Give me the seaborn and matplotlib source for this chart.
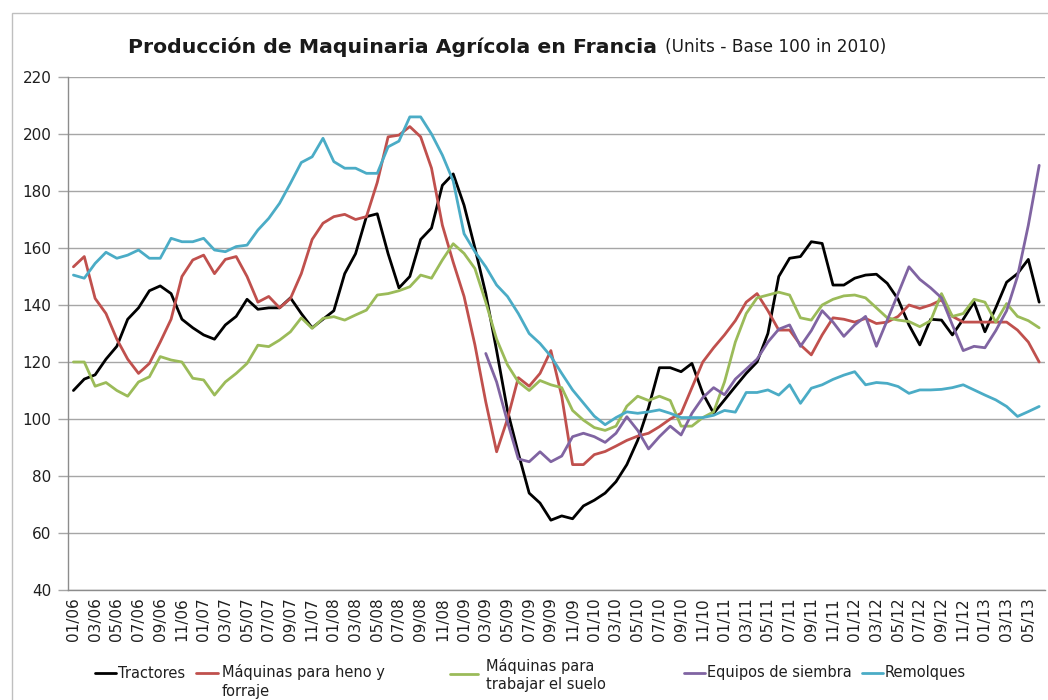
import numpy as np
import pandas as pd
import matplotlib
matplotlib.use("Agg")
import matplotlib.pyplot as plt
from matplotlib.lines import Line2D
from matplotlib.patches import Rectangle
import seaborn as sns

# ---------------- data ----------------
years = ["06", "07", "08", "09", "10", "11", "12", "13"]
month_labels = [f"{m:02d}/{y}" for y in years for m in range(1, 13)][:90]

series_names = ["Tractores", "Máquinas para heno y\nforraje",
                "Máquinas para\ntrabajar el suelo", "Equipos de siembra", "Remolques"]
series_colors = ["#000000", "#c0504d", "#9bbb59", "#8064a2", "#4bacc6"]

tractores = [110, 114, 115.5, 121, 125.5, 135, 139, 145, 146.7, 144,
             135, 132, 129.5, 128, 133, 136, 142, 138.5, 139, 139,
             142.5, 137, 132, 135, 138, 151, 158, 171, 172, 158,
             146, 150, 163, 167, 182, 186, 175, 160, 144, 124,
             103, 88, 74, 70.5, 64.5, 66, 65, 69.5, 71.5, 74,
             78, 84, 92.5, 104, 118, 118, 116.6, 119.5, 109, 102,
             106.7, 111.4, 116, 120, 130, 150, 156.4, 157, 162.2, 161.6,
             147, 147, 149.4, 150.5, 150.8, 147.6, 142, 133, 126, 135,
             134.7, 129.5, 135, 141, 130.6, 139, 148, 151, 156, 141]

heno = [153.4, 157, 142.3, 137, 128, 121, 116, 119.5, 127, 135,
        150, 155.8, 157.5, 151, 156, 157, 150, 141, 143, 139,
        142.3, 151, 163, 168.7, 171, 171.8, 170, 171, 183, 199,
        199.6, 202.6, 199, 188, 168, 155, 143, 126, 106, 88.5,
        100, 114.5, 111.5, 116, 124, 108, 84, 84, 87.5, 88.6,
        90.5, 92.5, 94, 95, 97.3, 100, 102, 111, 120, 125,
        129.5, 134.5, 141, 144, 138, 131.2, 131.2, 126, 122.5, 129.5,
        135.5, 135, 134, 135.3, 133.5, 134, 136, 140, 138.8, 140,
        141.8, 136, 134, 134, 134, 134, 134, 131.2, 127, 120]

suelo = [120, 120, 111.5, 112.8, 110, 108, 113, 114.8, 121.9, 120.7,
         120, 114.3, 113.7, 108.4, 113, 116, 119.5, 125.9, 125.4, 127.7,
         130.6, 135.5, 131.8, 135.3, 135.9, 134.7, 136.5, 138.2, 143.5, 144,
         145, 146.4, 150.5, 149.4, 155.8, 161.5, 158.1, 152.8, 141, 128,
         119, 113, 110, 113.5, 112, 111, 103, 99.6, 97, 96,
         97.5, 104.5, 108, 106.5, 108, 106.5, 97.5, 97.5, 100.5, 102.5,
         113, 127, 137, 142.5, 143.5, 144.5, 143.5, 135.5, 134.7, 140,
         142, 143.2, 143.5, 142.5, 139, 135.5, 134.7, 134.2, 132.4, 134.5,
         144, 136, 137, 142, 141, 134, 140.5, 136, 134.5, 132]

siembra_start = 38
siembra = [123, 113, 99, 86, 85, 88.5, 85, 87, 93.8, 95,
           93.8, 91.8, 95, 100.8, 96, 89.5, 93.8, 97.5, 94.4, 102,
           107.5, 111, 108.5, 114, 117.5, 121, 127, 131.5, 133, 125.5,
           131, 138, 134, 129, 133, 136, 125.5, 134.7, 144, 153.4,
           149, 146, 142.5, 133, 124, 125.5, 125, 131, 138, 150,
           168, 189]

remolques = [150.5, 149.4, 154.6, 158.5, 156.4, 157.5, 159.3, 156.4, 156.4, 163.4,
             162.2, 162.2, 163.4, 159.3, 158.7, 160.5, 161, 166.3, 170.4, 175.7,
             182.7, 190, 192, 198.5, 190.3, 188, 188, 186.2, 186.2, 195.5,
             197.5, 206, 206, 200, 192.6, 183.5, 165, 158.7, 153.4, 147,
             143, 137, 130, 126.5, 122, 116, 110.2, 105.6, 101, 98,
             100.5, 102.5, 102, 102.5, 103.2, 102, 100.5, 100.5, 100.5, 101.3,
             103, 102.4, 109.3, 109.3, 110.2, 108.4, 112, 105.5, 110.8, 112,
             113.9, 115.4, 116.6, 112, 112.8, 112.5, 111.4, 109, 110.2, 110.2,
             110.4, 111, 112, 110.2, 108.4, 106.7, 104.4, 100.9, 102.6, 104.4]

y_ticks = [40, 60, 80, 100, 120, 140, 160, 180, 200, 220]

# ---------------- long table ----------------
frames = []
for name, vals, start in [(series_names[0], tractores, 0),
                          (series_names[1], heno, 0),
                          (series_names[2], suelo, 0),
                          (series_names[3], siembra, siembra_start),
                          (series_names[4], remolques, 0)]:
    frames.append(pd.DataFrame({"idx": np.arange(start, start + len(vals)),
                                "valor": vals, "serie": name}))
df = pd.concat(frames, ignore_index=True)

# ---------------- figure ----------------
sns.set_theme(style="white")
plt.rcParams["font.family"] = ["DejaVu Sans"]

W, H = 1048, 700
fig = plt.figure(figsize=(W / 100, H / 100), dpi=100)
ax = fig.add_axes([68 / W, 1 - 590 / H, (1044.6 - 68) / W, (590 - 77) / H])

sns.lineplot(data=df, x="idx", y="valor", hue="serie", hue_order=series_names,
             palette=series_colors, estimator=None, linewidth=2.0, ax=ax, legend=False)

ax.set_xlim(-0.5, 89.5)
ax.set_ylim(40, 220)
ax.set_xlabel("")
ax.set_ylabel("")

ax.set_yticks(y_ticks)
ax.set_yticklabels([str(v) for v in y_ticks], fontsize=11, color="#1f1f1f")
ax.yaxis.grid(True, color="#a6a6a6", linewidth=1.0)
ax.xaxis.grid(False)
ax.set_axisbelow(True)

ax.set_xticks(np.arange(0, 90, 2))
ax.set_xticklabels(month_labels[::2], rotation=90, fontsize=11, color="#1f1f1f")
ax.set_xticks(np.arange(-0.5, 90, 2), minor=True)
ax.tick_params(axis="x", which="major", length=0, pad=5)
ax.tick_params(axis="x", which="minor", length=5, width=1, color="#8c8c8c", direction="out")
ax.tick_params(axis="y", which="major", length=7, width=1, color="#a6a6a6", direction="out", pad=5, left=True)

for s in ["top", "right"]:
    ax.spines[s].set_visible(False)
for s in ["left", "bottom"]:
    ax.spines[s].set_color("#8c8c8c")
    ax.spines[s].set_linewidth(1.0)

# outer chart border
fig.patches.append(Rectangle((12 / W, -0.1), 1.2, 1 - 13 / H + 0.1, transform=fig.transFigure,
                             fill=False, edgecolor="#bfbfbf", linewidth=1.0))

# ---------------- title ----------------
t1 = fig.text(128 / W, 1 - 47 / H, "Producción de Maquinaria Agrícola en Francia",
              fontsize=13, fontweight="bold", color="#1a1a1a", ha="left", va="center")
fig.canvas.draw()
r = fig.canvas.get_renderer()
bb = t1.get_window_extent(r)
t1.set_fontsize(13 * 522 / bb.width)
fig.canvas.draw()
bb = t1.get_window_extent(r)
t2 = fig.text((bb.x1 + 8) / W, 1 - 47 / H, "(Units - Base 100 in 2010)",
              fontsize=9, color="#1a1a1a", ha="left", va="center")
fig.canvas.draw()
bb2 = t2.get_window_extent(r)
t2.set_fontsize(9 * 222 / bb2.width)

# ---------------- legend ----------------
leg_fs = 10.5
legend_items = [
    (95, 116, 673, 118, 673, "center"),
    (196, 218, 673, 222, 664, "top"),
    (450, 478, 674, 486, 675, "center"),
    (684, 705, 673, 707, 673, "center"),
    (862, 883, 673, 885, 673, "center"),
]
for (hx0, hx1, hy, tx, ty, va), name, col in zip(legend_items, series_names, series_colors):
    fig.add_artist(Line2D([hx0 / W, hx1 / W], [1 - hy / H, 1 - hy / H], color=col,
                          linewidth=2.0, transform=fig.transFigure))
    fig.text(tx / W, 1 - ty / H, name, fontsize=leg_fs, color="#1f1f1f",
             ha="left", va=va, linespacing=1.3)

fig.savefig("out.png", dpi=100)
